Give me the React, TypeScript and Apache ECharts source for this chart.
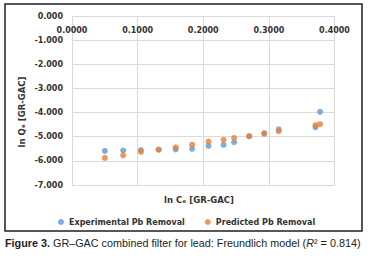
import React, { useEffect, useRef } from "react";
import * as echarts from "echarts";

const lnCe = [0.050, 0.078, 0.105, 0.132, 0.158, 0.183, 0.208, 0.231, 0.247, 0.270, 0.293, 0.315, 0.371, 0.378];
const experimental = [-5.59, -5.57, -5.55, -5.54, -5.53, -5.50, -5.38, -5.34, -5.23, -4.99, -4.87, -4.69, -4.61, -3.97];
const predicted = [-5.88, -5.77, -5.63, -5.53, -5.44, -5.33, -5.20, -5.13, -5.05, -4.97, -4.86, -4.77, -4.52, -4.48];
const seriesNames = ["Experimental Pb Removal", "Predicted Pb Removal"];
const xTitle = "ln Cₑ [GR-GAC]";
const yTitle = "ln Qₑ [GR-GAC]";

const FONT = "DejaVu Sans";
const LABEL = "#333333";

export default function App() {
  const ref = useRef<HTMLDivElement>(null);
  useEffect(() => {
    document.body.style.margin = "0";
    const chart = echarts.init(ref.current!, null, { renderer: "svg" });
    chart.setOption({
      animation: false,
      backgroundColor: "#ffffff",
      grid: { left: 72, top: 16, right: 38.5, bottom: 77 },
      xAxis: {
        type: "value",
        position: "top",
        min: 0,
        max: 0.4,
        interval: 0.1,
        axisLine: { show: false },
        axisTick: { show: false },
        axisLabel: {
          inside: true,
          margin: 10,
          formatter: (v: number) => v.toFixed(4),
          fontFamily: FONT,
          fontWeight: "bold",
          fontSize: 8,
          color: LABEL,
        },
        splitLine: { show: true, lineStyle: { color: "#d9d9d9", width: 1 } },
      },
      yAxis: {
        type: "value",
        min: -7,
        max: 0,
        interval: 1,
        axisLine: { show: false },
        axisTick: { show: false },
        axisLabel: {
          margin: 9,
          formatter: (v: number) => v.toFixed(3),
          fontFamily: FONT,
          fontWeight: "bold",
          fontSize: 8,
          color: LABEL,
        },
        splitLine: { show: true, lineStyle: { color: "#d9d9d9", width: 1 } },
      },
      legend: {
        left: 53,
        top: 213,
        icon: "circle",
        itemWidth: 6,
        itemHeight: 6,
        itemGap: 20,
        textStyle: { fontFamily: FONT, fontWeight: "bold", fontSize: 8, color: LABEL },
        data: seriesNames,
      },
      series: [
        {
          name: seriesNames[0],
          type: "scatter",
          symbolSize: 6,
          itemStyle: { color: "#5B9BD5" },
          data: lnCe.map((x, i) => [x, experimental[i]]),
        },
        {
          name: seriesNames[1],
          type: "scatter",
          symbolSize: 6,
          itemStyle: { color: "#ED7D31" },
          data: lnCe.map((x, i) => [x, predicted[i]]),
        },
      ],
      graphic: [
        {
          type: "rect",
          shape: { x: 5, y: 4, width: 357, height: 227 },
          style: { fill: "none", stroke: "#231f20", lineWidth: 1.5 },
          silent: true,
        },
        {
          type: "text",
          x: 199,
          y: 200,
          style: {
            text: xTitle,
            align: "center",
            verticalAlign: "middle",
            fontFamily: FONT,
            fontWeight: "bold",
            fontSize: 8.5,
            fill: LABEL,
          },
        },
        {
          type: "text",
          x: 22,
          y: 112,
          rotation: Math.PI / 2,
          style: {
            text: yTitle,
            align: "center",
            verticalAlign: "middle",
            fontFamily: FONT,
            fontWeight: "bold",
            fontSize: 8.5,
            fill: LABEL,
          },
        },
        {
          type: "text",
          x: 5,
          y: 243,
          style: {
            text: "{b|Figure 3.} GR–GAC combined filter for lead: Freundlich model ({i|R}² = 0.814)",
            verticalAlign: "middle",
            fontFamily: "Liberation Sans",
            fontSize: 10.8,
            fill: "#231f20",
            rich: {
              b: { fontFamily: "Liberation Sans", fontWeight: "bold", fontSize: 10.8, fill: "#231f20" },
              i: { fontFamily: "Liberation Sans", fontStyle: "italic", fontSize: 10.8, fill: "#231f20" },
            },
          },
        },
      ],
    });
    return () => chart.dispose();
  }, []);
  return <div ref={ref} style={{ width: 373, height: 262 }} />;
}
